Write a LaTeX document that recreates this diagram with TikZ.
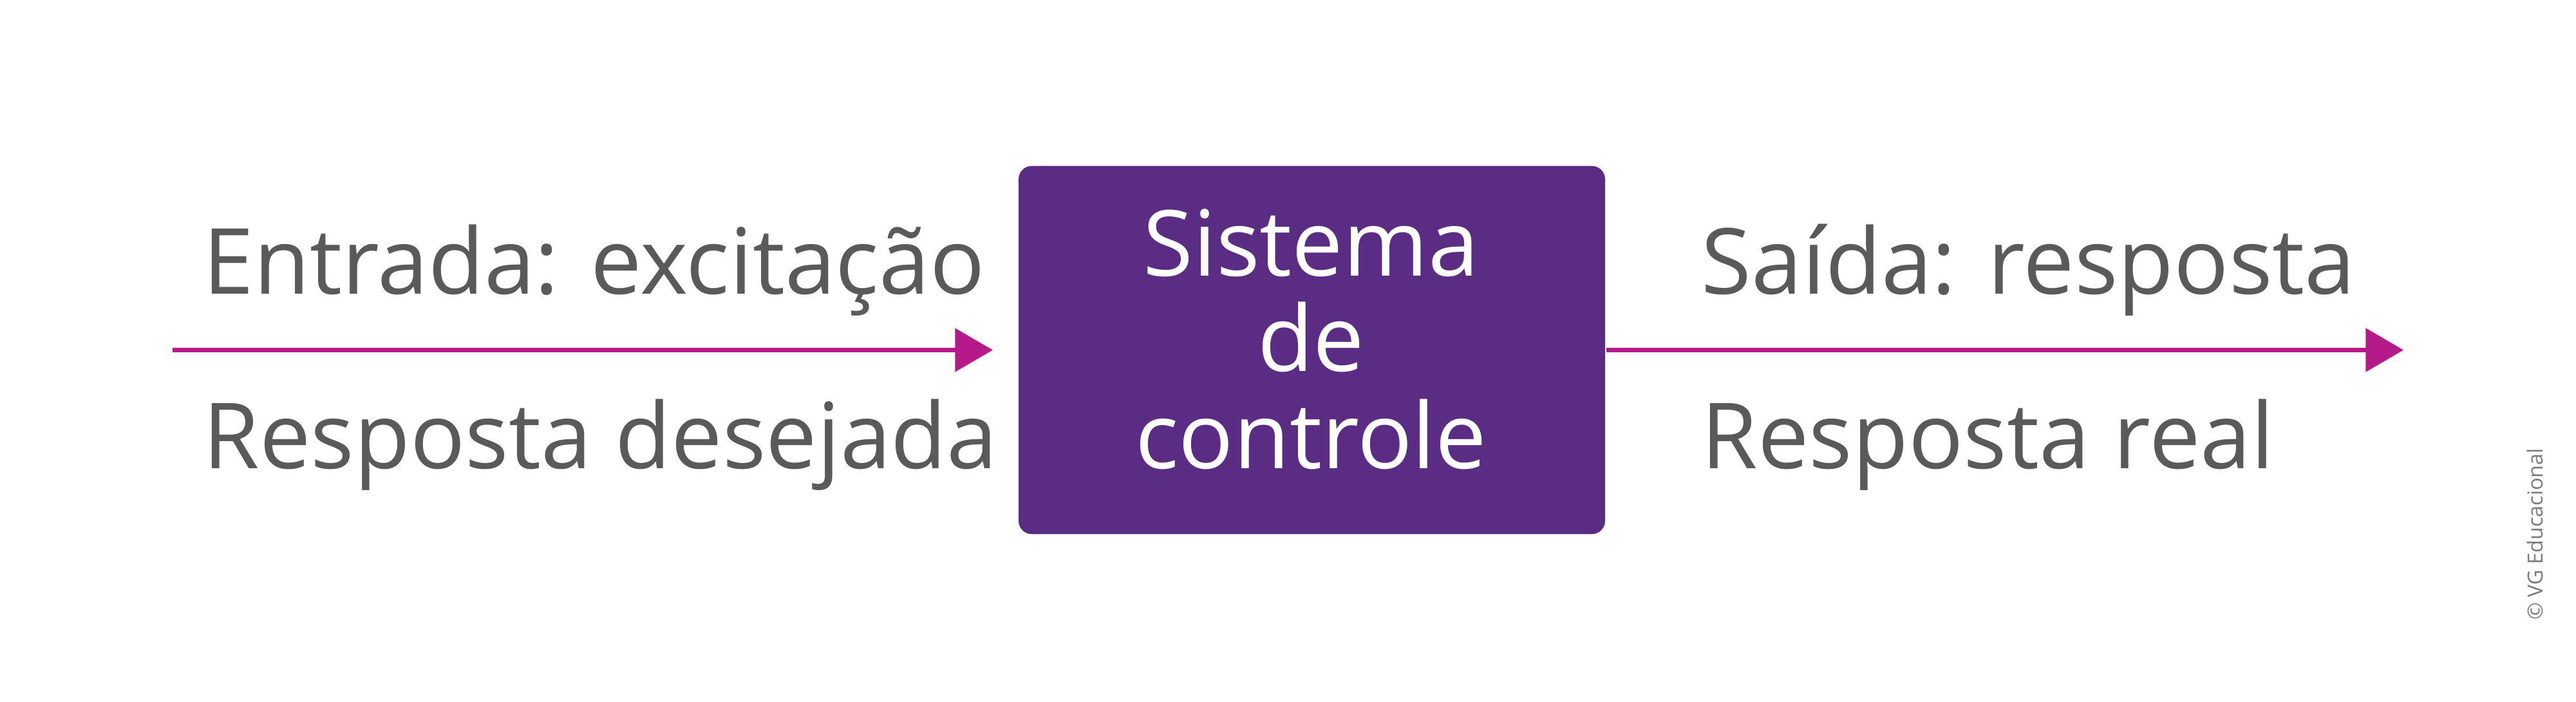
\documentclass[tikz,border=0pt]{standalone}
\usepackage{fontspec}
\setmainfont{Open Sans}
\usetikzlibrary{arrows.meta}
\definecolor{boxpurple}{HTML}{5B2C83}
\definecolor{arrowmag}{HTML}{B5198A}
\definecolor{txtgray}{HTML}{5A5A5A}
\begin{document}
\begin{tikzpicture}[x=0.1mm,y=-0.1mm,
  lbl/.style={anchor=base west,inner sep=0pt,text=txtgray,font=\fontsize{15.8}{19}\selectfont},
  btxt/.style={anchor=base,inner sep=0pt,text=white,font=\fontsize{15.8}{19}\selectfont},
  conn/.style={draw=arrowmag,line width=0.3mm,-{Triangle[length=2.3mm,width=2.6mm]}}]
\useasboundingbox (0,0) rectangle (1568,427);
\node[draw=none,fill=boxpurple,rounded corners=0.8mm,minimum width=35.7mm,minimum height=22.4mm,inner sep=0pt] (sys) at (798.5,213) {};
\coordinate (start) at (105,213);
\coordinate (end) at (1463,213);
\draw[conn,shorten >=1.5mm] (start) -- (sys.west);
\draw[conn] (sys.east) -- (end);
\node[btxt] (t1) at (798,168) {Sistema};
\node[btxt] (t2) at (798,226) {de};
\node[btxt] (t3) at (798,285) {controle};
\node[lbl] (in1) at (123,179) {Entrada: excitação};
\node[lbl] (in2) at (123,285) {Resposta desejada};
\node[lbl] (out1) at (1035,179) {Saída: resposta};
\node[lbl] (out2) at (1035,285) {Resposta real};
\node[rotate=90,inner sep=0pt,text=txtgray!80,font=\fontsize{3.6}{4}\selectfont] (copy) at (1543,325) {© VG Educacional};
\end{tikzpicture}
\end{document}
